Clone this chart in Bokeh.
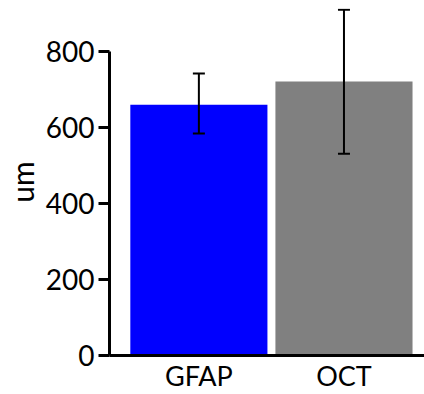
from bokeh.plotting import figure
from bokeh.models import Range1d, FixedTicker, ColumnDataSource, Whisker, TeeHead
from bokeh.embed import file_html
from bokeh.resources import INLINE

categories = ["GFAP", "OCT"]
means = [660, 721]
err_upper = [742, 910]
err_lower = [584, 531]
colors = ["#0000FF", "#808080"]
y_ticks = [0, 200, 400, 600, 800]

xs = list(range(len(categories)))
src = ColumnDataSource(dict(x=xs, top=means, upper=err_upper, lower=err_lower, color=colors))

font = "Lato"

p = figure(width=424, height=394,
           x_range=Range1d(-0.616, 1.555), y_range=Range1d(0, 913),
           output_backend="svg", toolbar_location=None,
           min_border_left=107, min_border_right=0, min_border_top=8, min_border_bottom=39)
p.outline_line_color = None
p.xgrid.grid_line_color = None
p.ygrid.grid_line_color = None

p.vbar(x="x", top="top", width=0.945, bottom=0, fill_color="color", line_color=None, source=src)

w = Whisker(base="x", upper="upper", lower="lower", source=src, level="overlay",
            line_color="black", line_width=2,
            upper_head=TeeHead(size=12, line_width=2, line_color="black"),
            lower_head=TeeHead(size=12, line_width=2, line_color="black"))
p.add_layout(w)

p.xaxis.ticker = FixedTicker(ticks=xs)
p.xaxis.major_label_overrides = {i: c for i, c in zip(xs, categories)}
p.xaxis.major_label_text_font = font
p.xaxis.major_label_text_font_size = "27px"
p.xaxis.major_label_text_color = "black"
p.xaxis.major_label_standoff = 1
p.xaxis.major_tick_out = 2
p.xaxis.major_tick_in = 0
p.xaxis.major_tick_line_color = None
p.xaxis.minor_tick_line_color = None
p.xaxis.axis_line_width = 3
p.xaxis.axis_line_color = "black"

p.yaxis.ticker = FixedTicker(ticks=y_ticks)
p.yaxis.bounds = (0, 800)
p.yaxis.axis_line_width = 3
p.yaxis.axis_line_color = "black"
p.yaxis.major_tick_out = 11
p.yaxis.major_tick_in = 0
p.yaxis.major_tick_line_width = 3
p.yaxis.major_tick_line_color = "black"
p.yaxis.minor_tick_line_color = None
p.yaxis.major_label_text_font = font
p.yaxis.major_label_text_font_size = "28px"
p.yaxis.major_label_text_color = "black"
p.yaxis.major_label_standoff = 4
p.yaxis.axis_label = "um"
p.yaxis.axis_label_text_font = font
p.yaxis.axis_label_text_font_size = "30px"
p.yaxis.axis_label_text_font_style = "normal"
p.yaxis.axis_label_text_color = "black"
p.yaxis.axis_label_standoff = 3

open("out.html", "w").write(file_html(p, INLINE))
